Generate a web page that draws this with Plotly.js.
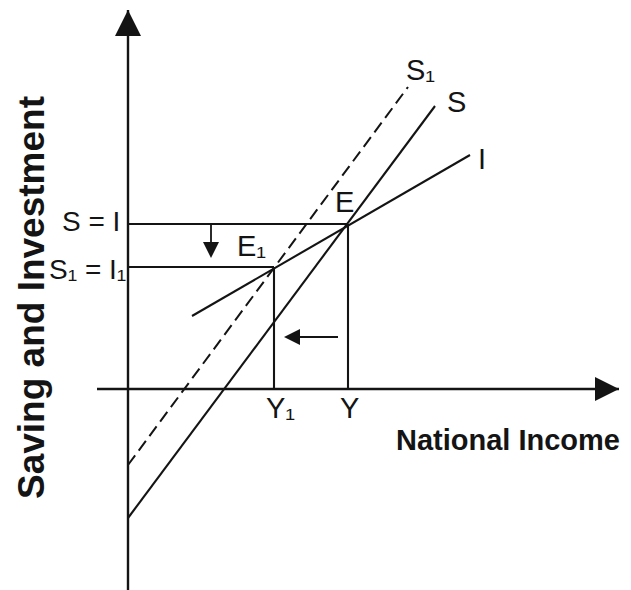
<!DOCTYPE html>
<html>
<head>
<meta charset="utf-8">
<script src="https://cdn.plot.ly/plotly-3.0.1.min.js"></script>
<style>
  html, body { margin: 0; padding: 0; background: #ffffff; }
  #chart { width: 631px; height: 590px; }
</style>
</head>
<body>
<div id="chart"></div>
<script>
// Income on the horizontal axis, saving / investment on the vertical axis (arbitrary units).
const axisXSpan = [-3.1, 49.1];   // horizontal axis, left end to arrow tip
const axisYSpan = [-20.1, 37.9];  // vertical axis, bottom to arrow tip

// Saving schedule S, shifted saving schedule S1 and investment schedule I (end points)
const savingX = [0, 30.7];
const savingY = [-12.9, 28.3];
const saving1X = [0, 28.0];
const saving1Y = [-7.6, 30.2];
const investX = [6.4, 34.2];
const investY = [7.3, 23.4];

// Equilibrium points E and E1
const eqNames = ['E', 'E₁'];
const eqIncome = [22.0, 14.6];
const eqLevel = [16.5, 12.2];
const incomeNames = ['Y', 'Y₁'];
const levelNames = ['S = I', 'S₁ = I₁'];

// Curve labels, in the order S1, S, I
const curveNames = ['S₁', 'S', 'I'];

// Shift arrows: the fall in saving/investment and the fall in income
const fallX = [8.3, 8.3];
const fallY = [16.4, 13.1];
const incomeFallX = [21.0, 15.6];
const incomeFallY = [5.2, 5.2];

const ink = '#141414';

function labelFont(size) {
  return { family: 'Liberation Sans, Arial, DejaVu Sans, sans-serif', size: size || 28, color: ink };
}
function titleFont(size) {
  return { family: 'Liberation Sans, Arial, sans-serif', size: size, color: ink, weight: 'bold' };
}

function segment(x, y, extra) {
  return Object.assign({
    x: x, y: y, mode: 'lines', hoverinfo: 'skip', showlegend: false,
    line: { color: ink, width: 2.1 }
  }, extra || {});
}

const traces = [];

// Axes
traces.push(segment([0, 0], axisYSpan, { line: { color: ink, width: 2.4 } }));
traces.push(segment(axisXSpan, [0, 0], { line: { color: ink, width: 2.4 } }));
traces.push({
  x: [0], y: [axisYSpan[1]], mode: 'markers', hoverinfo: 'skip', showlegend: false,
  marker: { symbol: 'arrow-up', size: 26, color: ink }
});
traces.push({
  x: [axisXSpan[1]], y: [0], mode: 'markers', hoverinfo: 'skip', showlegend: false,
  marker: { symbol: 'arrow-right', size: 24, color: ink }
});

// Schedules
traces.push(segment(saving1X, saving1Y, { line: { color: ink, width: 2, dash: '12px,6px' } }));
traces.push(segment(savingX, savingY));
traces.push(segment(investX, investY));

// Guide lines from each equilibrium to both axes
for (let i = 0; i < eqIncome.length; i++) {
  traces.push(segment([0, eqIncome[i]], [eqLevel[i], eqLevel[i]]));
  traces.push(segment([eqIncome[i], eqIncome[i]], [eqLevel[i], 0]));
}

// Shift arrows
traces.push(segment(fallX, [fallY[0], fallY[1] + 0.8], { line: { color: ink, width: 1.8 } }));
traces.push({
  x: [fallX[1]], y: [fallY[1]], mode: 'markers', hoverinfo: 'skip', showlegend: false,
  marker: { symbol: 'arrow-down', size: 16, color: ink }
});
traces.push(segment([incomeFallX[0], incomeFallX[1] + 0.8], incomeFallY, { line: { color: ink, width: 2 } }));
traces.push({
  x: [incomeFallX[1]], y: [incomeFallY[1]], mode: 'markers', hoverinfo: 'skip', showlegend: false,
  marker: { symbol: 'arrow-left', size: 16, color: ink }
});

const annotations = [];

// Curve labels beside the upper ends of the schedules
const curveEnds = [
  { x: saving1X[1], y: saving1Y[1], dx: 12, dy: 17 },
  { x: savingX[1], y: savingY[1], dx: 21, dy: 4 },
  { x: investX[1], y: investY[1], dx: 12, dy: -4 }
];
curveEnds.forEach(function (c, i) {
  annotations.push({
    x: c.x, y: c.y, xref: 'x', yref: 'y', text: curveNames[i], showarrow: false,
    xanchor: 'center', yanchor: 'middle', xshift: c.dx, yshift: c.dy, font: labelFont(29)
  });
});

// Equilibrium labels
annotations.push({
  x: eqIncome[0], y: eqLevel[0], xref: 'x', yref: 'y', text: eqNames[0], showarrow: false,
  xanchor: 'center', yanchor: 'middle', xshift: -4, yshift: 22, font: labelFont(29)
});
annotations.push({
  x: eqIncome[1], y: eqLevel[1], xref: 'x', yref: 'y', text: eqNames[1], showarrow: false,
  xanchor: 'right', yanchor: 'middle', xshift: -6, yshift: 21, font: labelFont(29)
});

// Levels on the vertical axis
annotations.push({
  x: 0, y: eqLevel[0], xref: 'x', yref: 'y', text: levelNames[0], showarrow: false,
  xanchor: 'right', yanchor: 'middle', xshift: -6, yshift: 3, font: labelFont(28)
});
annotations.push({
  x: 0, y: eqLevel[1], xref: 'x', yref: 'y', text: levelNames[1], showarrow: false,
  xanchor: 'right', yanchor: 'middle', xshift: 0, yshift: -2, font: labelFont(28)
});

// Incomes on the horizontal axis
annotations.push({
  x: eqIncome[0], y: 0, xref: 'x', yref: 'y', text: incomeNames[0], showarrow: false,
  xanchor: 'center', yanchor: 'top', xshift: 1, yshift: -1, font: labelFont(29)
});
annotations.push({
  x: eqIncome[1], y: 0, xref: 'x', yref: 'y', text: incomeNames[1], showarrow: false,
  xanchor: 'center', yanchor: 'top', xshift: 6, yshift: -1, font: labelFont(29)
});

// Axis titles, placed in page pixels (631 x 590)
annotations.push({
  x: 508 / 631, y: 1 - 440 / 590, xref: 'paper', yref: 'paper', text: 'National Income',
  showarrow: false, xanchor: 'center', yanchor: 'middle', font: titleFont(29)
});
annotations.push({
  x: 31 / 631, y: 1 - 298 / 590, xref: 'paper', yref: 'paper', text: 'Saving and Investment',
  showarrow: false, textangle: -90, xanchor: 'center', yanchor: 'middle', font: titleFont(37)
});

const layout = {
  width: 631, height: 590,
  margin: { l: 0, r: 0, t: 0, b: 0, pad: 0 },
  paper_bgcolor: '#ffffff', plot_bgcolor: '#ffffff',
  xaxis: { range: [-12.8, 50.3], visible: false, fixedrange: true },
  yaxis: { range: [-20.1, 38.9], visible: false, fixedrange: true },
  showlegend: false,
  annotations: annotations
};

Plotly.newPlot('chart', traces, layout, { displayModeBar: false });
</script>
</body>
</html>
